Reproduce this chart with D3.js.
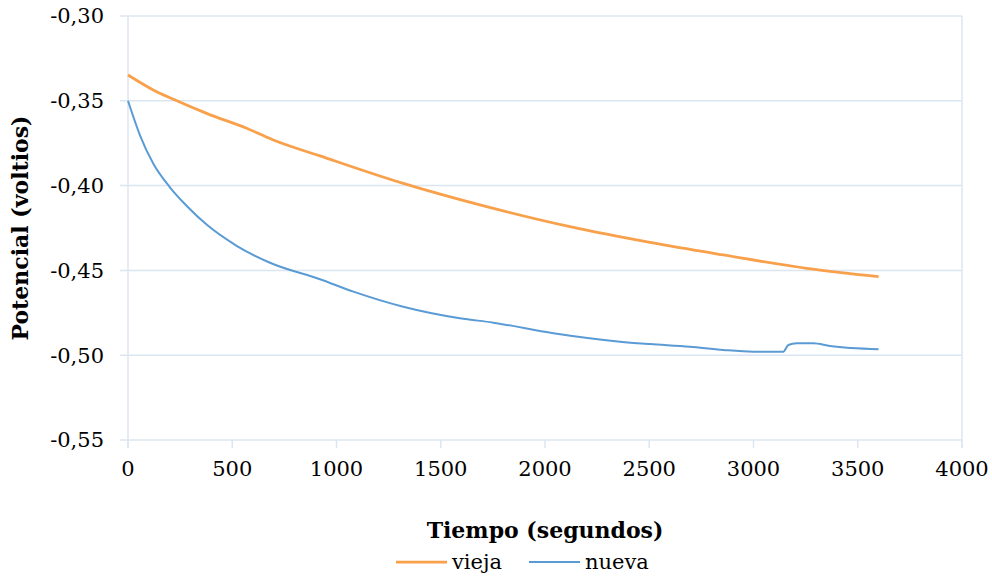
<!DOCTYPE html>
<html>
<head>
<meta charset="utf-8">
<script src="https://cdn.jsdelivr.net/npm/d3@7"></script>
<style>
  html, body { margin: 0; padding: 0; background: #fff; }
  svg { display: block; }
  text { font-family: "DejaVu Serif", "Liberation Serif", serif; fill: #000; }
</style>
</head>
<body>
<svg id="chart" width="992" height="577"></svg>
<script>
// Electrode potential over time for the old and new electrodes
const viejaTime = [0, 121, 218, 377, 569, 697, 921, 1320, 1720, 2120, 2504, 2855, 3255, 3600];
const viejaPot  = [-0.3348, -0.3436, -0.3491, -0.3574, -0.3662, -0.3731, -0.3825, -0.3987, -0.4124, -0.4242, -0.4335, -0.4409, -0.4488, -0.4537];

const nuevaTime = [0, 58, 121, 201, 282, 377, 521, 681, 921, 1081, 1320, 1592, 1752, 2040, 2360, 2504, 2695, 2855, 2999, 3143, 3167, 3207, 3287, 3367, 3600];
const nuevaPot  = [-0.3500, -0.3705, -0.3870, -0.4010, -0.4120, -0.4230, -0.4355, -0.4455, -0.4552, -0.4625, -0.4714, -0.4782, -0.4808, -0.4871, -0.4920, -0.4934, -0.4950, -0.4969, -0.4979, -0.4979, -0.4940, -0.4930, -0.4930, -0.4946, -0.4965];

const xTicks = [0, 500, 1000, 1500, 2000, 2500, 3000, 3500, 4000];
const yTicks = [-0.30, -0.35, -0.40, -0.45, -0.50, -0.55];

const seriesNames  = ["vieja", "nueva"];
const seriesColors = ["#F9A04B", "#5B9BD5"];

const svg = d3.select("#chart");
const plotLeft = 128, plotRight = 962, plotTop = 16, plotBottom = 440;
const gridColor = "#DCE6F2";

const x = d3.scaleLinear().domain([0, 4000]).range([plotLeft, plotRight]);
const y = d3.scaleLinear().domain([-0.55, -0.30]).range([plotBottom, plotTop]);

// horizontal gridlines
svg.append("g").selectAll("line").data(yTicks).join("line")
  .attr("x1", plotLeft - 8).attr("x2", plotRight)
  .attr("y1", d => y(d)).attr("y2", d => y(d))
  .attr("stroke", gridColor).attr("stroke-width", 1.5);

// plot frame sides
svg.append("line").attr("x1", plotLeft).attr("x2", plotLeft).attr("y1", plotTop).attr("y2", plotBottom + 8)
  .attr("stroke", gridColor).attr("stroke-width", 1.5);
svg.append("line").attr("x1", plotRight).attr("x2", plotRight).attr("y1", plotTop).attr("y2", plotBottom + 8)
  .attr("stroke", gridColor).attr("stroke-width", 1.5);

// x tick marks
svg.append("g").selectAll("line").data(xTicks).join("line")
  .attr("x1", d => x(d)).attr("x2", d => x(d))
  .attr("y1", plotBottom).attr("y2", plotBottom + 8)
  .attr("stroke", gridColor).attr("stroke-width", 1.5);

const fmt = d => d.toFixed(2).replace(".", ",");

// y tick labels
svg.append("g").selectAll("text").data(yTicks).join("text")
  .attr("x", 104).attr("y", d => y(d))
  .attr("dy", "0.35em")
  .attr("text-anchor", "end")
  .attr("font-size", 21)
  .text(fmt);

// x tick labels
svg.append("g").selectAll("text").data(xTicks).join("text")
  .attr("x", d => x(d)).attr("y", 476)
  .attr("text-anchor", "middle")
  .attr("font-size", 21)
  .text(d => d);

// axis titles
svg.append("text")
  .attr("x", (plotLeft + plotRight) / 2).attr("y", 538)
  .attr("text-anchor", "middle")
  .attr("font-size", 22).attr("font-weight", "bold")
  .text("Tiempo (segundos)");

svg.append("text")
  .attr("transform", "translate(28," + ((plotTop + plotBottom) / 2) + ") rotate(-90)")
  .attr("text-anchor", "middle")
  .attr("font-size", 22).attr("font-weight", "bold")
  .text("Potencial (voltios)");

// data lines
const line = d3.line().x(d => x(d[0])).y(d => y(d[1])).curve(d3.curveMonotoneX);
const data = [
  d3.zip(viejaTime, viejaPot),
  d3.zip(nuevaTime, nuevaPot)
];
const widths = [2.75, 2];
svg.append("g").selectAll("path").data(data).join("path")
  .attr("d", line)
  .attr("fill", "none")
  .attr("stroke", (d, i) => seriesColors[i])
  .attr("stroke-width", (d, i) => widths[i])
  .attr("stroke-linejoin", "round");

// legend
const legendX = [396, 529];
const lg = svg.append("g").selectAll("g").data(seriesNames).join("g")
  .attr("transform", (d, i) => "translate(" + legendX[i] + ",562)");
lg.append("line").attr("x1", 0).attr("x2", 51).attr("y1", 0).attr("y2", 0)
  .attr("stroke", (d, i) => seriesColors[i]).attr("stroke-width", (d, i) => widths[i]);
lg.append("text").attr("x", 56).attr("y", 0).attr("dy", "0.35em")
  .attr("font-size", 21).text(d => d);
</script>
</body>
</html>
